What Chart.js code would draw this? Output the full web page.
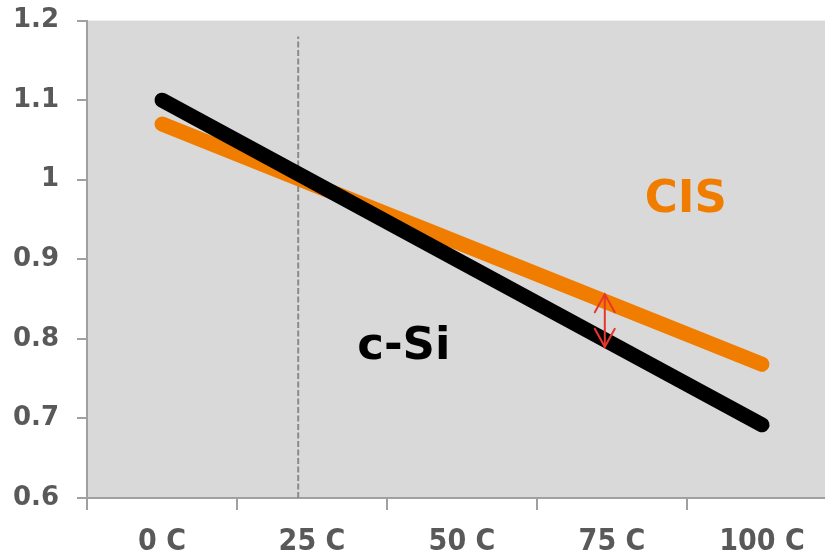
<!DOCTYPE html>
<html>
<head>
<meta charset="utf-8">
<script src="https://cdn.jsdelivr.net/npm/chart.js@4/dist/chart.umd.min.js"></script>
<style>
  html, body { margin: 0; padding: 0; background: #ffffff; overflow: hidden; width: 825px; height: 556px; }
  #wrap { width: 850px; height: 569px; margin-top: -13px; }
</style>
</head>
<body>
<div id="wrap"><canvas id="c" width="850" height="569"></canvas></div>
<script>
// ---- data ----
const categories = ['0 C', '25 C', '50 C', '75 C', '100 C'];
const yTicks = [0.6, 0.7, 0.8, 0.9, 1.0, 1.1, 1.2];
const yTickLabels = ['0.6', '0.7', '0.8', '0.9', '1', '1.1', '1.2'];
const lineTemps = [0, 100];           // °C
const cSiValues = [1.10, 0.692];
const cisValues = [1.07, 0.768];
const refTemps = [22.7, 22.7];        // vertical dashed reference
const refValues = [0.6, 1.18];
const gapTemps = [73.8, 73.8];        // red double arrow
const gapValues = [0.856, 0.790];
const seriesNames = ['c-Si', 'CIS'];

const pts = (xs, ys) => xs.map((x, i) => ({ x: x, y: ys[i] }));

const bgPlugin = {
  id: 'plotBg',
  beforeDraw(chart) {
    const a = chart.chartArea, ctx = chart.ctx;
    ctx.save();
    ctx.fillStyle = '#d9d9d9';
    ctx.fillRect(a.left, a.top, a.right - a.left, a.bottom - a.top);
    ctx.restore();
  }
};

const arrowPlugin = {
  id: 'arrowHeads',
  afterDatasetsDraw(chart) {
    const meta = chart.getDatasetMeta(3);
    const p = meta.data;
    if (!p || p.length < 2) return;
    const ctx = chart.ctx;
    ctx.save();
    ctx.strokeStyle = '#e8362b';
    ctx.lineWidth = 2;
    ctx.lineCap = 'round';
    const top = p[0], bot = p[1];
    ctx.beginPath();
    ctx.moveTo(top.x - 10, top.y + 18); ctx.lineTo(top.x, top.y); ctx.lineTo(top.x + 10, top.y + 18);
    ctx.moveTo(bot.x - 10, bot.y - 18); ctx.lineTo(bot.x, bot.y); ctx.lineTo(bot.x + 10, bot.y - 18);
    ctx.stroke();
    ctx.restore();
  }
};

const labelPlugin = {
  id: 'seriesLabels',
  afterDatasetsDraw(chart) {
    const xs = chart.scales.xv, ys = chart.scales.y, ctx = chart.ctx;
    ctx.save();
    ctx.textAlign = 'center';
    ctx.textBaseline = 'alphabetic';
    ctx.font = 'bold 45px "DejaVu Sans"';
    ctx.fillStyle = '#f07d00';
    ctx.fillText(seriesNames[1], xs.getPixelForValue(87.3), ys.getPixelForValue(0.959));
    ctx.fillStyle = '#000000';
    ctx.fillText(seriesNames[0], xs.getPixelForValue(40.3), ys.getPixelForValue(0.7745));
    ctx.restore();
  }
};

new Chart(document.getElementById('c'), {
  type: 'line',
  data: {
    labels: categories,
    datasets: [
      { label: seriesNames[0], data: pts(lineTemps, cSiValues), xAxisID: 'xv',
        borderColor: '#000000', borderWidth: 15, borderCapStyle: 'round', pointRadius: 0, order: 1 },
      { label: seriesNames[1], data: pts(lineTemps, cisValues), xAxisID: 'xv',
        borderColor: '#f07d00', borderWidth: 15, borderCapStyle: 'round', pointRadius: 0, order: 2 },
      { label: 'ref', data: pts(refTemps, refValues), xAxisID: 'xv',
        borderColor: '#8a8a8a', borderWidth: 2, borderDash: [6, 2.5], pointRadius: 0, order: 3 },
      { label: 'gap', data: pts(gapTemps, gapValues), xAxisID: 'xv',
        borderColor: '#e8362b', borderWidth: 2, pointRadius: 0, order: 0 }
    ]
  },
  options: {
    responsive: false,
    animation: false,
    events: [],
    layout: { padding: { top: 7, right: 13, left: 0, bottom: 0 } },
    plugins: { legend: { display: false }, tooltip: { enabled: false } },
    scales: {
      x: {
        type: 'category',
        offset: true,
        grid: { display: true, drawOnChartArea: false, offset: true, tickLength: 12, color: '#a0a0a0', lineWidth: 2 },
        border: { display: true, color: '#a0a0a0', width: 2 },
        ticks: { color: '#595959', font: { family: '"DejaVu Sans Condensed", "DejaVu Sans"', weight: 'bold', size: 30 }, padding: 14, maxRotation: 0, autoSkip: false },
        afterFit(s) { s.height = 58; }
      },
      xv: {
        type: 'linear',
        display: false,
        min: -12.5,
        max: 112.5
      },
      y: {
        type: 'linear',
        min: 0.6,
        max: 1.2,
        afterBuildTicks(s) { s.ticks = yTicks.map(v => ({ value: v })); },
        grid: { display: true, drawOnChartArea: false, tickLength: 10, color: '#a0a0a0', lineWidth: 2 },
        border: { display: true, color: '#a0a0a0', width: 2 },
        ticks: { color: '#595959', font: { family: '"DejaVu Sans"', weight: 'bold', size: 26 }, padding: 18,
                 callback: (v, i) => yTickLabels[i] },
        afterFit(s) { s.width = 87; }
      }
    }
  },
  plugins: [bgPlugin, arrowPlugin, labelPlugin]
});
</script>
</body>
</html>
